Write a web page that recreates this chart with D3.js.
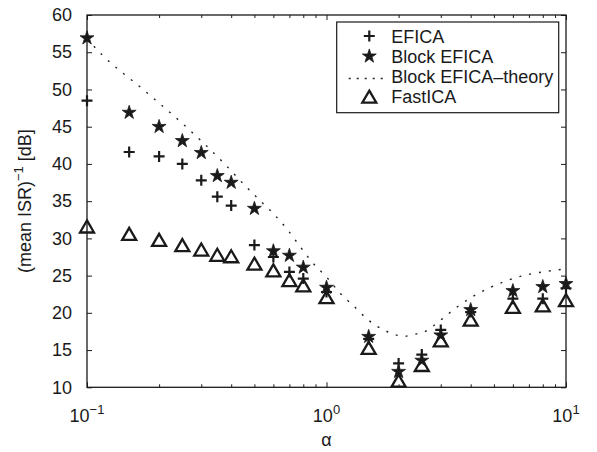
<!DOCTYPE html>
<html>
<head>
  <title>ISR vs alpha</title>
  <script src="https://d3js.org/d3.v7.min.js"></script>
  <style>
    body { margin: 0; background: #fff; }
    text { font-family: "Liberation Sans", Arial, Helvetica, sans-serif; fill: #1a1a1a; }
  </style>
</head>
<body>

  <svg></svg>

  <script>

    // Data
    var alphas = [0.1, 0.15, 0.2, 0.25, 0.3, 0.35, 0.4, 0.5, 0.6, 0.7, 0.8, 1, 1.5, 2, 2.5, 3, 4, 6, 8, 10];
    var efica = [48.5, 41.6, 41.0, 40.0, 37.8, 35.6, 34.4, 29.1, 27.5, 25.5, 24.6, 22.8, 16.5, 13.2, 14.4, 17.7, 20.1, 21.9, 21.9, 23.3];
    var blockEfica = [56.9, 46.9, 45.0, 43.1, 41.5, 38.4, 37.5, 34.0, 28.3, 27.7, 26.1, 23.4, 16.8, 12.1, 13.6, 17.0, 20.4, 22.95, 23.5, 23.9];
    var fastIca = [31.6, 30.6, 29.8, 29.1, 28.5, 27.8, 27.6, 26.6, 25.7, 24.4, 23.7, 22.1, 15.3, 10.9, 13.0, 16.3, 19.1, 20.8, 21.0, 21.7];

    // Theory curve, points
    var theoryAlpha = [0.1, 0.116, 0.17, 0.263, 0.373, 0.455, 0.527, 0.603, 0.686, 0.774, 0.871, 1.0, 1.143, 1.3, 1.5, 1.76, 1.92, 2.11, 2.31, 2.54, 2.99, 3.48, 4.09, 4.82, 5.75, 6.96, 8.44, 10];
    var theory = [56.8, 54.6, 50.1, 44.8, 40.1, 37.15, 35.1, 33.25, 31.2, 28.95, 26.8, 24.8, 22.6, 20.9, 19.0, 17.6, 17.1, 16.85, 17.1, 17.4, 19.0, 20.7, 22.2, 23.4, 24.4, 25.15, 25.6, 25.9];

    var yTicks = [10, 15, 20, 25, 30, 35, 40, 45, 50, 55, 60];
    var xMajor = [0.1, 1, 10];
    var xExponents = ["\u22121", "0", "1"];
    var xMinor = [0.2, 0.3, 0.4, 0.5, 0.6, 0.7, 0.8, 0.9, 2, 3, 4, 5, 6, 7, 8, 9];
    var legendLabels = ["EFICA", "Block EFICA", "Block EFICA\u2013theory", "FastICA"];

    var ink = "#1a1a1a";

    var margin = {top: 15, right: 31, bottom: 64.7, left: 87},
        width = 597 - margin.left - margin.right,
        height = 452 - margin.top - margin.bottom;

    var svg = d3.select("svg")
        .attr("width", 597)
        .attr("height", 452)
      .append("g")
        .attr("transform", "translate(" + margin.left + "," + margin.top + ")");

    var x = d3.scaleLog().domain([0.1, 10]).range([0, width]);
    var y = d3.scaleLinear().domain([10, 60]).range([height, 0]);

    // Marker shapes (custom symbol types)
    var plusSym = {
      draw: function(ctx, size) {
        var r = size;
        ctx.moveTo(-r, 0); ctx.lineTo(r, 0);
        ctx.moveTo(0, -r); ctx.lineTo(0, r);
      }
    };
    var triSym = {
      draw: function(ctx, size) {
        var w = size, h = size * 0.86;
        ctx.moveTo(0, -h / 2);
        ctx.lineTo(w / 2, h / 2);
        ctx.lineTo(-w / 2, h / 2);
        ctx.closePath();
      }
    };

    // Axes: bottom and top with major + minor ticks
    function styleAxis(g) {
      g.select(".domain").remove();
      g.selectAll(".tick line").attr("stroke", ink).attr("stroke-width", 1);
    }

    svg.append("g")
        .attr("transform", "translate(0," + height + ")")
        .call(d3.axisBottom(x).tickValues(xMajor).tickSize(-5).tickFormat(""))
        .call(styleAxis);
    svg.append("g")
        .attr("transform", "translate(0," + height + ")")
        .call(d3.axisBottom(x).tickValues(xMinor).tickSize(-3).tickFormat(""))
        .call(styleAxis);
    svg.append("g")
        .call(d3.axisTop(x).tickValues(xMajor).tickSize(-5).tickFormat(""))
        .call(styleAxis);
    svg.append("g")
        .call(d3.axisTop(x).tickValues(xMinor).tickSize(-3).tickFormat(""))
        .call(styleAxis);

    // Left and right axes
    svg.append("g")
        .call(d3.axisLeft(y).tickValues(yTicks).tickSize(-5).tickPadding(15))
        .call(styleAxis)
        .call(function(g) {
          g.selectAll(".tick text")
              .style("font-size", "18px")
              .style("font-family", "'Liberation Sans', Arial, sans-serif")
              .attr("fill", ink);
        });
    svg.append("g")
        .attr("transform", "translate(" + width + ",0)")
        .call(d3.axisRight(y).tickValues(yTicks).tickSize(-5).tickFormat(""))
        .call(styleAxis);

    // Box round the plot
    svg.append("rect")
        .attr("width", width)
        .attr("height", height)
        .attr("fill", "none")
        .attr("stroke", ink)
        .attr("stroke-width", 1.3);

    // x tick labels as 10^k
    var xl = svg.selectAll(".xlab")
        .data(xMajor)
      .enter().append("text")
        .attr("class", "xlab")
        .attr("x", function(d) { return x(d); })
        .attr("y", height + 34.5)
        .attr("text-anchor", "middle")
        .style("font-size", "18px");
    xl.append("tspan").text("10");
    xl.append("tspan")
        .attr("dy", -8)
        .style("font-size", "13px")
        .text(function(d, i) { return xExponents[i]; });

    // Theory line
    var line = d3.line()
        .x(function(d) { return x(d[0]); })
        .y(function(d) { return y(d[1]); })
        .curve(d3.curveMonotoneX);

    svg.append("path")
        .datum(d3.zip(theoryAlpha, theory))
        .attr("d", line)
        .attr("fill", "none")
        .attr("stroke", "#222")
        .attr("stroke-width", 1.4)
        .attr("stroke-dasharray", "2 8");

    // EFICA plus markers
    svg.selectAll(".efica")
        .data(d3.zip(alphas, efica))
      .enter().append("path")
        .attr("class", "efica")
        .attr("transform", function(d) { return "translate(" + x(d[0]) + "," + y(d[1]) + ")"; })
        .attr("d", d3.symbol().type(plusSym).size(5.5))
        .attr("fill", "none")
        .attr("stroke", ink)
        .attr("stroke-width", 2.2);

    // Block EFICA stars
    svg.selectAll(".block")
        .data(d3.zip(alphas, blockEfica))
      .enter().append("path")
        .attr("class", "block")
        .attr("transform", function(d) { return "translate(" + x(d[0]) + "," + y(d[1]) + ")"; })
        .attr("d", d3.symbol().type(d3.symbolStar).size(60))
        .attr("fill", ink)
        .attr("stroke", ink)
        .attr("stroke-width", 0.8);

    // FastICA triangles
    svg.selectAll(".fast")
        .data(d3.zip(alphas, fastIca))
      .enter().append("path")
        .attr("class", "fast")
        .attr("transform", function(d) { return "translate(" + x(d[0]) + "," + y(d[1]) + ")"; })
        .attr("d", d3.symbol().type(triSym).size(14))
        .attr("fill", "none")
        .attr("stroke", ink)
        .attr("stroke-width", 2.3)
        .attr("stroke-linejoin", "miter");

    // Axis labels
    svg.append("text")
        .attr("x", width / 2)
        .attr("y", height + 59)
        .attr("text-anchor", "middle")
        .style("font-size", "18px")
        .text("\u03b1");

    var yl = svg.append("text")
        .attr("transform", "translate(" + (31 - margin.left) + "," + (height / 2) + ") rotate(-90)")
        .attr("text-anchor", "middle")
        .style("font-size", "18px");
    yl.append("tspan").text("(mean ISR)");
    yl.append("tspan").attr("dy", -8).style("font-size", "13px").text("\u22121");
    yl.append("tspan").attr("dy", 8).text(" [dB]");

    // Legend
    var lx = 336.7 - margin.left, ly = 22 - margin.top;
    var legend = svg.append("g").attr("transform", "translate(" + lx + "," + ly + ")");
    legend.append("rect")
        .attr("width", 222)
        .attr("height", 90.7)
        .attr("fill", "#fff")
        .attr("stroke", ink)
        .attr("stroke-width", 1.2);

    var rowY = d3.scalePoint().domain(legendLabels).range([14, 74.7]);
    var mx = 32.6;

    legend.selectAll(".ltext")
        .data(legendLabels)
      .enter().append("text")
        .attr("class", "ltext")
        .attr("x", 54.5)
        .attr("y", function(d) { return rowY(d) + 6.5; })
        .style("font-size", "18px")
        .text(function(d) { return d; });

    legend.append("path")
        .attr("transform", "translate(" + mx + "," + rowY(legendLabels[0]) + ")")
        .attr("d", d3.symbol().type(plusSym).size(5.5))
        .attr("fill", "none")
        .attr("stroke", ink)
        .attr("stroke-width", 2.2);
    legend.append("path")
        .attr("transform", "translate(" + mx + "," + rowY(legendLabels[1]) + ")")
        .attr("d", d3.symbol().type(d3.symbolStar).size(60))
        .attr("fill", ink)
        .attr("stroke", ink)
        .attr("stroke-width", 0.8);
    legend.append("line")
        .attr("x1", 12).attr("x2", 50)
        .attr("y1", rowY(legendLabels[2]) + 2).attr("y2", rowY(legendLabels[2]) + 2)
        .attr("stroke", "#222")
        .attr("stroke-width", 1.4)
        .attr("stroke-dasharray", "2 6");
    legend.append("path")
        .attr("transform", "translate(" + mx + "," + rowY(legendLabels[3]) + ")")
        .attr("d", d3.symbol().type(triSym).size(14))
        .attr("fill", "none")
        .attr("stroke", ink)
        .attr("stroke-width", 2.3);

  </script>

</body>
</html>
